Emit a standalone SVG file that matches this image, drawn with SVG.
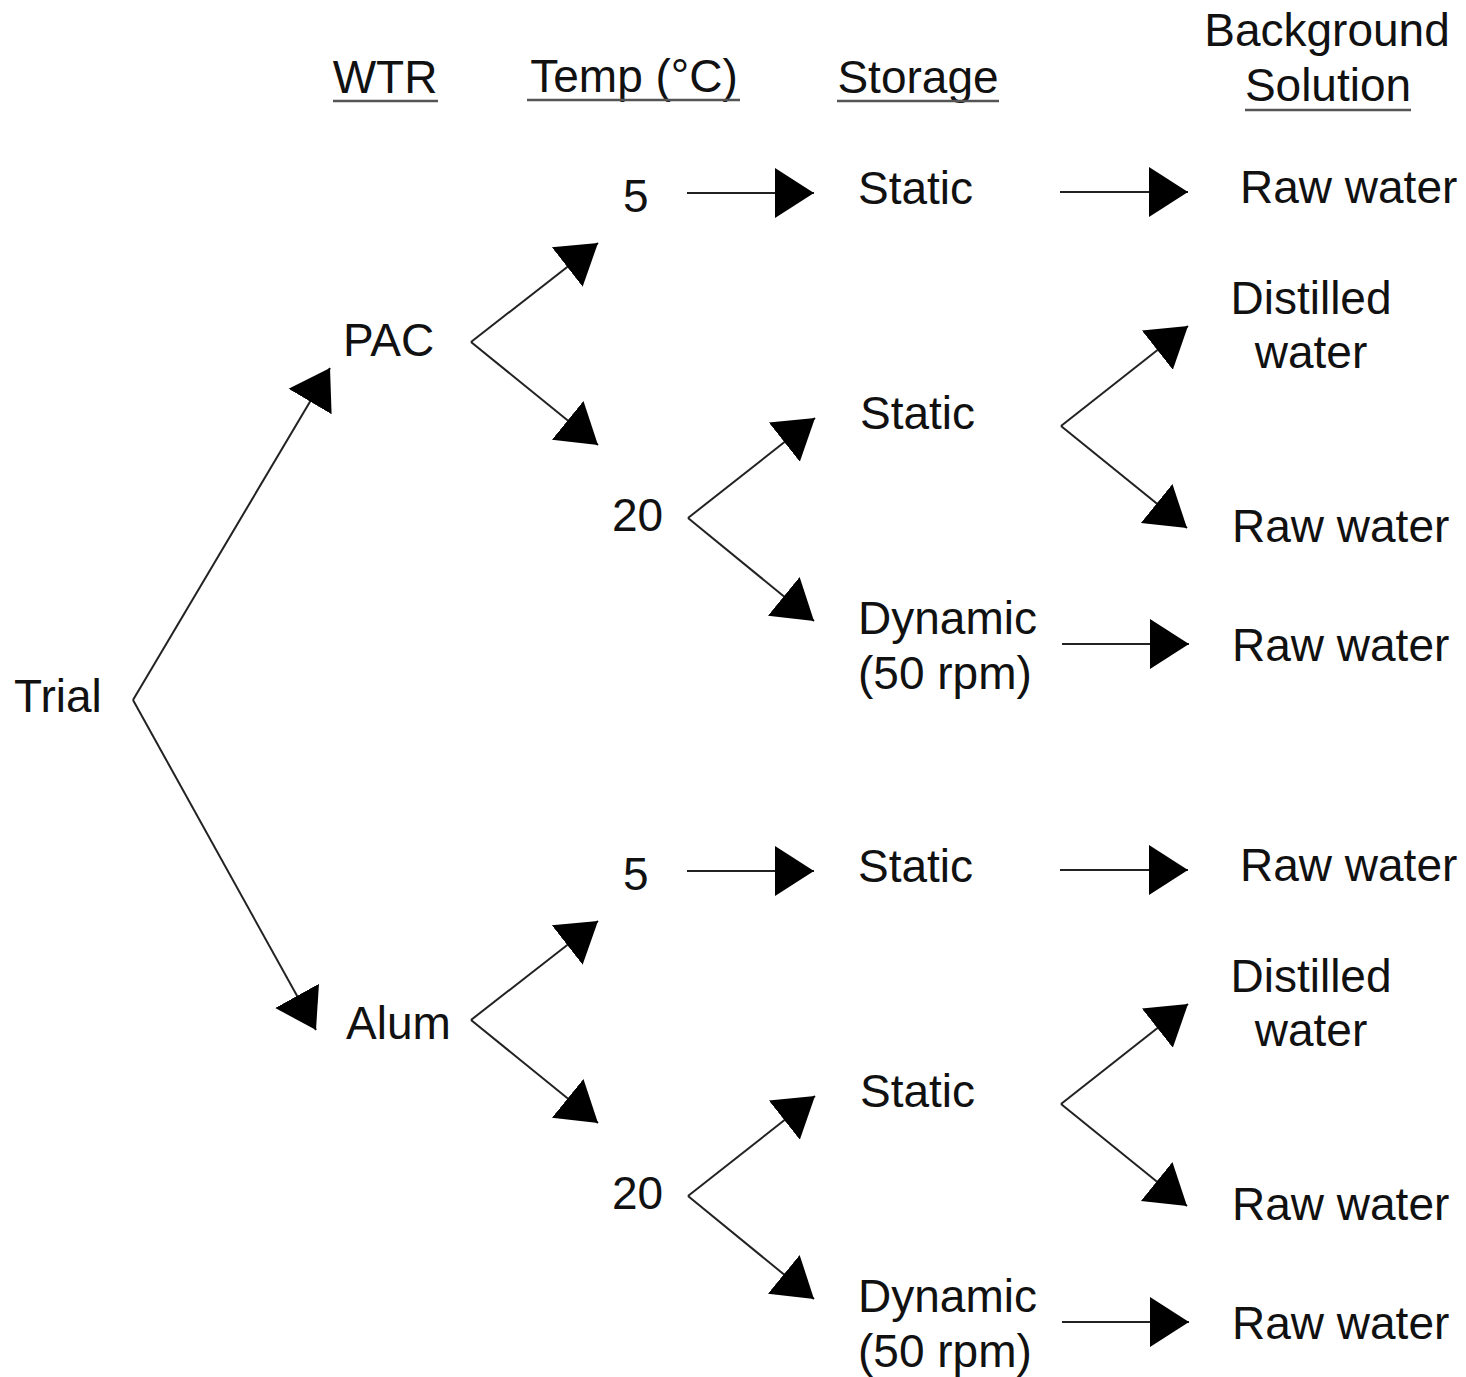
<svg xmlns="http://www.w3.org/2000/svg" width="1466" height="1377" viewBox="0 0 1466 1377">
<style>
text{font-family:"Liberation Sans",Arial,sans-serif;font-size:46px;fill:#111}
.c{text-anchor:middle}
.e{stroke:#222;stroke-width:2;fill:none}
.u{stroke:#555;stroke-width:2.5}
</style>
<defs>
<marker id="ah" markerUnits="userSpaceOnUse" markerWidth="42" markerHeight="54" viewBox="0 -27 42 54" refX="39" refY="0" orient="auto">
<path d="M0,-25 L39,0 L0,25 z" fill="#000"/>
</marker>
</defs>
<rect width="1466" height="1377" fill="#fff"/>
<g id="headers">
<text class="c" x="385" y="93">WTR</text>
<line class="u" x1="333" y1="101" x2="438" y2="101"/>
<text class="c" x="634" y="92">Temp (°C)</text>
<line class="u" x1="527" y1="100" x2="740" y2="100"/>
<text class="c" x="918" y="93">Storage</text>
<line class="u" x1="837" y1="101" x2="999" y2="101"/>
<text class="c" x="1327" y="46">Background</text>
<text class="c" x="1328" y="101">Solution</text>
<line class="u" x1="1245" y1="110" x2="1411" y2="110"/>
</g>
<g id="connectors">
<line class="e" x1="133" y1="700" x2="330" y2="368" marker-end="url(#ah)"/>
<line class="e" x1="133" y1="700" x2="316" y2="1030" marker-end="url(#ah)"/>
<line class="e" x1="471" y1="342" x2="598" y2="243" marker-end="url(#ah)"/>
<line class="e" x1="471" y1="342" x2="598" y2="445" marker-end="url(#ah)"/>
<line class="e" x1="687" y1="193" x2="814" y2="193" marker-end="url(#ah)"/>
<line class="e" x1="1060" y1="192" x2="1188" y2="192" marker-end="url(#ah)"/>
<line class="e" x1="688" y1="518" x2="815" y2="418" marker-end="url(#ah)"/>
<line class="e" x1="688" y1="518" x2="814" y2="621" marker-end="url(#ah)"/>
<line class="e" x1="1061" y1="426" x2="1188" y2="326" marker-end="url(#ah)"/>
<line class="e" x1="1061" y1="426" x2="1187" y2="528" marker-end="url(#ah)"/>
<line class="e" x1="1062" y1="644" x2="1189" y2="644" marker-end="url(#ah)"/>
<line class="e" x1="471" y1="1020" x2="598" y2="921" marker-end="url(#ah)"/>
<line class="e" x1="471" y1="1020" x2="598" y2="1123" marker-end="url(#ah)"/>
<line class="e" x1="687" y1="871" x2="814" y2="871" marker-end="url(#ah)"/>
<line class="e" x1="1060" y1="870" x2="1188" y2="870" marker-end="url(#ah)"/>
<line class="e" x1="688" y1="1196" x2="815" y2="1096" marker-end="url(#ah)"/>
<line class="e" x1="688" y1="1196" x2="814" y2="1299" marker-end="url(#ah)"/>
<line class="e" x1="1061" y1="1104" x2="1188" y2="1004" marker-end="url(#ah)"/>
<line class="e" x1="1061" y1="1104" x2="1187" y2="1206" marker-end="url(#ah)"/>
<line class="e" x1="1062" y1="1322" x2="1189" y2="1322" marker-end="url(#ah)"/>
</g>
<g id="n-trial"><text x="14" y="712">Trial</text></g>
<g id="n-pac"><text x="343" y="356">PAC</text></g>
<g id="n-pac-5"><text x="623" y="212">5</text></g>
<g id="n-pac-20"><text x="612" y="531">20</text></g>
<g id="n-pac-5-static"><text x="858" y="204">Static</text></g>
<g id="n-pac-20-static"><text x="860" y="429">Static</text></g>
<g id="n-pac-20-dynamic"><text x="858" y="634">Dynamic</text><text x="858" y="689">(50 rpm)</text></g>
<g id="n-pac-r1"><text x="1240" y="203">Raw water</text></g>
<g id="n-pac-d1"><text class="c" x="1311" y="314">Distilled</text><text class="c" x="1311" y="368">water</text></g>
<g id="n-pac-r2"><text x="1232" y="542">Raw water</text></g>
<g id="n-pac-r3"><text x="1232" y="661">Raw water</text></g>
<g id="n-alum"><text x="346" y="1039">Alum</text></g>
<g id="n-alum-5"><text x="623" y="890">5</text></g>
<g id="n-alum-20"><text x="612" y="1209">20</text></g>
<g id="n-alum-5-static"><text x="858" y="882">Static</text></g>
<g id="n-alum-20-static"><text x="860" y="1107">Static</text></g>
<g id="n-alum-20-dynamic"><text x="858" y="1312">Dynamic</text><text x="858" y="1367">(50 rpm)</text></g>
<g id="n-alum-r1"><text x="1240" y="881">Raw water</text></g>
<g id="n-alum-d1"><text class="c" x="1311" y="992">Distilled</text><text class="c" x="1311" y="1046">water</text></g>
<g id="n-alum-r2"><text x="1232" y="1220">Raw water</text></g>
<g id="n-alum-r3"><text x="1232" y="1339">Raw water</text></g>
</svg>
